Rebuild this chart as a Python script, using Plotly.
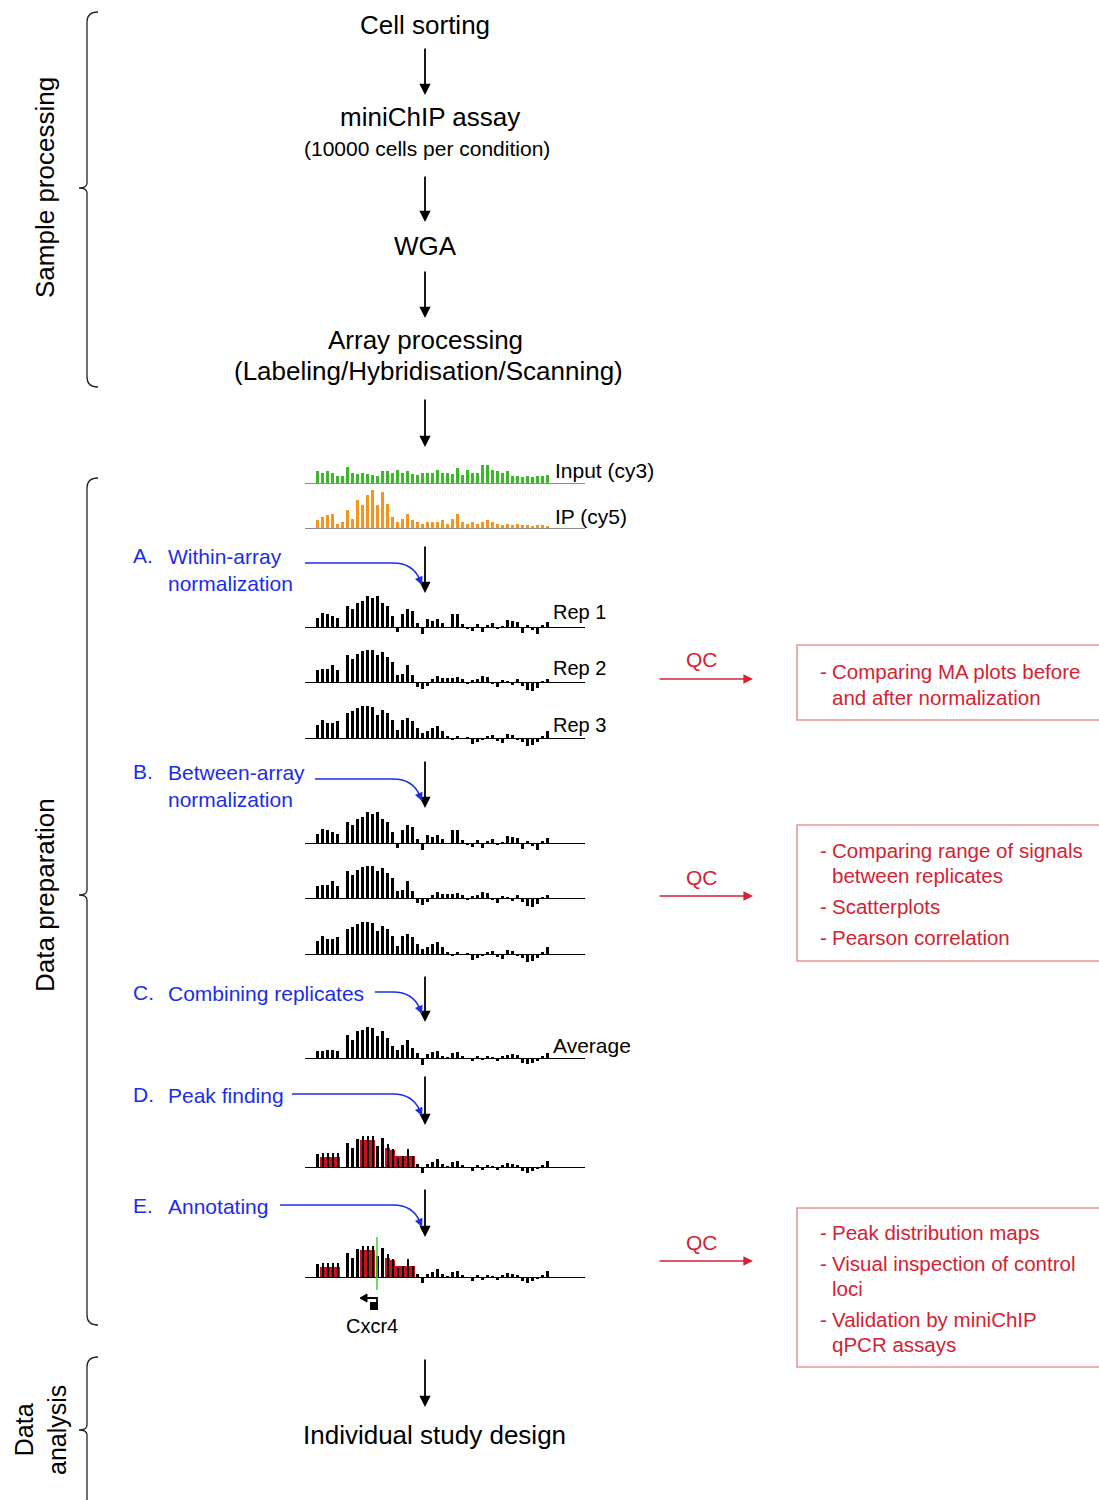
import plotly.graph_objects as go

W, H = 1099, 1500
FONT = "Liberation Sans, Arial, Helvetica, sans-serif"
BLUE = "#1b2cec"
RED = "#d42233"
BOXRED = "#e8979c"
GREEN = "#3cb82a"
ORANGE = "#f7941d"
PEAKRED = "#c8101e"

# ---------------- data (47 probe bins per track, left to right) ----------------
input_cy3 = [12, 10, 12, 10, 7, 7, 16, 10, 9, 10, 9, 8, 7, 12, 12, 10, 13, 10, 12, 9, 8, 10, 10, 10,
             13, 10, 10, 9, 15, 8, 13, 10, 10, 18, 18, 13, 12, 10, 12, 7, 7, 6, 7, 6, 7, 7, 8]
ip_cy5 = [8, 11, 13, 14, 4, 6, 18, 9, 28, 23, 33, 38, 23, 36, 24, 11, 6, 9, 14, 8, 6, 4, 6, 6,
          6, 8, 4, 9, 14, 6, 4, 6, 4, 6, 8, 6, 4, 3, 4, 3, 4, 3, 3, 2, 3, 3, 2]
rep1 = [9, 14, 13, 11, 9, 0, 21, 18, 24, 26, 31, 29, 31, 24, 21, 11, -5, 13, 18, 16, 4, -7, 8, 6,
        8, 4, -1, 13, 13, 3, -2, -4, 3, -5, 2, 4, -2, 1, 7, 6, 5, -6, 2, -3, -7, 2, 5]
rep2 = [12, 13, 13, 17, 12, 0, 27, 23, 28, 31, 32, 32, 27, 30, 25, 20, 7, 8, 17, 7, -5, -7, -4, 3,
        6, 4, 4, 4, 5, 3, -2, 2, 3, 6, 5, -2, -5, 2, 1, -3, 3, -4, -8, -9, -6, 1, 3]
rep3 = [13, 18, 15, 15, 17, 0, 25, 27, 30, 32, 32, 31, 23, 28, 25, 18, 8, 18, 20, 17, 10, 5, 7, 10,
        12, 7, 2, -2, 2, -1, 1, -6, -4, -2, 2, 3, -3, -5, 4, 3, -2, -4, -8, -7, -4, 2, 7]
# between-array normalised replicates (visually unchanged from within-array result)
norm1 = rep1
norm2 = rep2
norm3 = rep3
average = [7, 7, 8, 8, 7, 0, 23, 18, 27, 28, 31, 30, 22, 27, 20, 12, 8, 13, 18, 10, 5, -7, 4, 6,
           7, 2, 1, 5, 6, 2, -1, -3, 2, -2, 2, 1, -3, 2, 3, 4, 3, -5, -6, -5, -3, 2, 5]
peak_signal = [13, 14, 14, 14, 14, 0, 24, 19, 28, 31, 31, 31, 21, 29, 23, 18, 9, 11, 18, 11, 3, -6, 3, 5,
               8, 3, 1, 5, 6, 2, -1, -4, 2, -3, 2, 1, -3, 2, 4, 3, 2, -4, -6, -4, -2, 2, 6]
peak_regions = [0, 10, 10, 10, 10, 0, 0, 0, 0, 27, 27, 27, 0, 0, 19, 17, 11, 11, 11, 11, 0, 0, 0, 0,
                0, 0, 0, 0, 0, 0, 0, 0, 0, 0, 0, 0, 0, 0, 0, 0, 0, 0, 0, 0, 0, 0, 0]

track_labels = ["Input (cy3)", "IP (cy5)", "Rep 1", "Rep 2", "Rep 3", "Average"]
flow_steps = ["Cell sorting", "miniChIP assay", "(10000 cells per condition)", "WGA",
              "Array processing", "(Labeling/Hybridisation/Scanning)", "Individual study design"]
step_letters = ["A.", "B.", "C.", "D.", "E."]
step_names = ["Within-array<br>normalization", "Between-array<br>normalization",
              "Combining replicates", "Peak finding", "Annotating"]
qc_box1 = ["Comparing MA plots before", "and after normalization"]
qc_box2 = ["Comparing range of signals", "between replicates", "Scatterplots", "Pearson correlation"]
qc_box3 = ["Peak distribution maps", "Visual inspection of control", "loci",
           "Validation by miniChIP", "qPCR assays"]
sections = ["Sample processing", "Data preparation", "Data<br>analysis"]
gene = "Cxcr4"


def px(x):
    return x / W


def py(y):
    return 1 - y / H


# ---------------- tracks as small bar charts ----------------
tracks = [
    (input_cy3, GREEN, 483, "#8c8c8c", None, 0.7),
    (ip_cy5, ORANGE, 528, "#8c8c8c", None, 0.7),
    (rep1, "black", 627, "black", None, 0.7),
    (rep2, "black", 682, "black", None, 0.7),
    (rep3, "black", 738, "black", None, 0.7),
    (norm1, "black", 843, "black", None, 0.7),
    (norm2, "black", 898, "black", None, 0.7),
    (norm3, "black", 954, "black", None, 0.7),
    (average, "black", 1058, "black", None, 0.7),
    (peak_signal, "black", 1167, "black", peak_regions, 0.7),
    (peak_signal, "black", 1277, "black", peak_regions, 0.7),
]

fig = go.Figure()
axes = {}
for k, (vals, col, yb, zc, overlay, bw) in enumerate(tracks, start=1):
    xa = "x" if k == 1 else f"x{k}"
    ya = "y" if k == 1 else f"y{k}"
    xkey = "xaxis" if k == 1 else f"xaxis{k}"
    ykey = "yaxis" if k == 1 else f"yaxis{k}"
    idx = list(range(len(vals)))
    widths = [bw] * len(vals)
    if overlay is not None:
        fig.add_bar(x=idx, y=overlay, marker_color=PEAKRED, width=1.0,
                    marker_line_width=0, xaxis=xa, yaxis=ya, hoverinfo="skip")
        widths = [0.4 if r > 0 else bw for r in overlay]
    fig.add_bar(x=idx, y=vals, marker_color=col, width=widths, marker_line_width=0,
                xaxis=xa, yaxis=ya, hoverinfo="skip")
    axes[xkey] = dict(domain=[px(305), px(585)], range=[-2.5, 53.5], showgrid=False,
                      zeroline=False, showticklabels=False, showline=False, ticks="",
                      anchor=ya, fixedrange=True)
    axes[ykey] = dict(domain=[py(yb + 12), py(yb - 40)], range=[-12, 40], showgrid=False,
                      zeroline=True, zerolinecolor=zc, zerolinewidth=1.3,
                      showticklabels=False, showline=False, ticks="", anchor=xa,
                      fixedrange=True)

ann = []
shapes = []


def text(x, y, s, size, color="black", xanchor="center", angle=0):
    ann.append(dict(x=px(x), y=py(y), xref="paper", yref="paper", text=s, showarrow=False,
                    xanchor=xanchor, yanchor="middle", textangle=angle,
                    font=dict(family=FONT, size=size, color=color)))


def arrow(x, y0, y1):
    ann.append(dict(x=px(x), y=py(y1), xref="paper", yref="paper", ax=0, ay=y0 - y1,
                    text="", showarrow=True, arrowhead=2, arrowsize=1.25, arrowwidth=1.8,
                    arrowcolor="black"))


# flow text
text(425, 25, flow_steps[0], 26)
text(430, 117, flow_steps[1], 26)
text(427, 148, flow_steps[2], 21)
text(425, 246, flow_steps[3], 26)
text(425, 340, flow_steps[4], 26)
text(428, 371, flow_steps[5], 26)
text(434, 1435, flow_steps[6], 26)

for y0, y1 in [(47, 95), (175, 222), (270, 318), (398, 447), (545, 593), (760, 808),
               (975, 1022), (1075, 1125), (1188, 1237), (1358, 1407)]:
    arrow(425, y0, y1)

# track labels
for s, (x, y), fs in zip(track_labels, [(553, 470), (553, 516), (551, 612), (551, 668),
                                         (551, 725), (551, 1045)], [21, 21, 20, 20, 20, 21]):
    text(x, y, s, fs, xanchor="left")

# blue processing steps
step_pos = [(555, 305), (771, 315), (992, 375), (1094, 292), (1205, 280)]
for letter, name, (y, xs) in zip(step_letters, step_names, step_pos):
    text(131, y, letter, 21, BLUE, "left")
    nl = name.count("<br>")
    ann.append(dict(x=px(166), y=py(y - 12), xref="paper", yref="paper", text=name,
                    showarrow=False, xanchor="left", yanchor="top", align="left",
                    font=dict(family=FONT, size=21, color=BLUE)))
    ya = y + 8 if nl else y
    shapes.append(dict(type="path", xref="paper", yref="paper",
                       path=f"M {px(xs)} {py(ya)} L {px(393)} {py(ya)} "
                            f"Q {px(413)} {py(ya)} {px(420)} {py(ya + 17)}",
                       line=dict(color=BLUE, width=1.6)))
    ann.append(dict(x=px(422), y=py(ya + 22), xref="paper", yref="paper", ax=-3, ay=-7,
                    text="", showarrow=True, arrowhead=2, arrowsize=1.1, arrowwidth=1.5,
                    arrowcolor=BLUE))

# QC arrows
for yq in [679, 896, 1261]:
    text(702, yq - 19, "QC", 21, RED)
    ann.append(dict(x=px(753), y=py(yq), xref="paper", yref="paper", ax=-95, ay=0,
                    text="", showarrow=True, arrowhead=2, arrowsize=1.2, arrowwidth=1.6,
                    arrowcolor=RED))

# QC boxes
for y0, y1 in [(645, 720), (825, 961), (1208, 1367)]:
    shapes.append(dict(type="rect", xref="paper", yref="paper", x0=px(797), x1=px(1105),
                       y0=py(y0), y1=py(y1), line=dict(color=BOXRED, width=1.6)))


def box_lines(lines, ys, dashed):
    for s, y, d in zip(lines, ys, dashed):
        if d:
            text(818, y, "-", 20.5, RED, "left")
        text(830, y, s, 20.5, RED, "left")


box_lines(qc_box1, [672, 697], [True, False])
box_lines(qc_box2, [850, 875, 906, 937], [True, False, True, True])
box_lines(qc_box3, [1232, 1263, 1288, 1319, 1344], [True, True, False, True, False])


# section brackets
def bracket(y0, y1, ym):
    shapes.append(dict(type="path", xref="paper", yref="paper",
                       path=(f"M {px(98)} {py(y0)} Q {px(87)} {py(y0)} {px(87)} {py(y0 + 10)} "
                             f"L {px(87)} {py(ym - 5)} Q {px(87)} {py(ym)} {px(79)} {py(ym)} "
                             f"Q {px(87)} {py(ym)} {px(87)} {py(ym + 5)} "
                             f"L {px(87)} {py(y1 - 10)} Q {px(87)} {py(y1)} {px(98)} {py(y1)}"),
                       line=dict(color="#222", width=1.3)))


bracket(12, 387, 188)
bracket(478, 1325, 895)
bracket(1357, 1530, 1430)
text(45, 188, sections[0], 26, angle=-90)
text(45, 895, sections[1], 26, angle=-90)
ann.append(dict(x=px(40), y=py(1430), xref="paper", yref="paper", text=sections[2],
                showarrow=False, textangle=-90, xanchor="center", yanchor="middle",
                font=dict(family=FONT, size=25, color="black")))

# gene annotation (Cxcr4)
shapes.append(dict(type="line", xref="paper", yref="paper", x0=px(377), x1=px(377),
                   y0=py(1237), y1=py(1290), line=dict(color="#33dd33", width=1.6)))
shapes.append(dict(type="path", xref="paper", yref="paper",
                   path=f"M {px(377)} {py(1304)} L {px(377)} {py(1298)} L {px(366)} {py(1298)}",
                   line=dict(color="black", width=1.8)))
shapes.append(dict(type="path", xref="paper", yref="paper",
                   path=f"M {px(360)} {py(1298)} L {px(367)} {py(1294)} L {px(367)} {py(1302)} Z",
                   fillcolor="black", line=dict(color="black", width=1)))
shapes.append(dict(type="rect", xref="paper", yref="paper", x0=px(370), x1=px(378),
                   y0=py(1302), y1=py(1310), fillcolor="black", line=dict(width=0)))
text(372, 1326, gene, 20)

fig.update_layout(width=W, height=H, margin=dict(l=0, r=0, t=0, b=0), autosize=False,
                  paper_bgcolor="white", plot_bgcolor="rgba(0,0,0,0)", showlegend=False,
                  barmode="overlay", bargap=0, annotations=ann, shapes=shapes, **axes)

fig.write_html("out.html", config={"displayModeBar": False},
               post_script="document.body.style.margin='0';document.body.style.overflow='hidden';")
